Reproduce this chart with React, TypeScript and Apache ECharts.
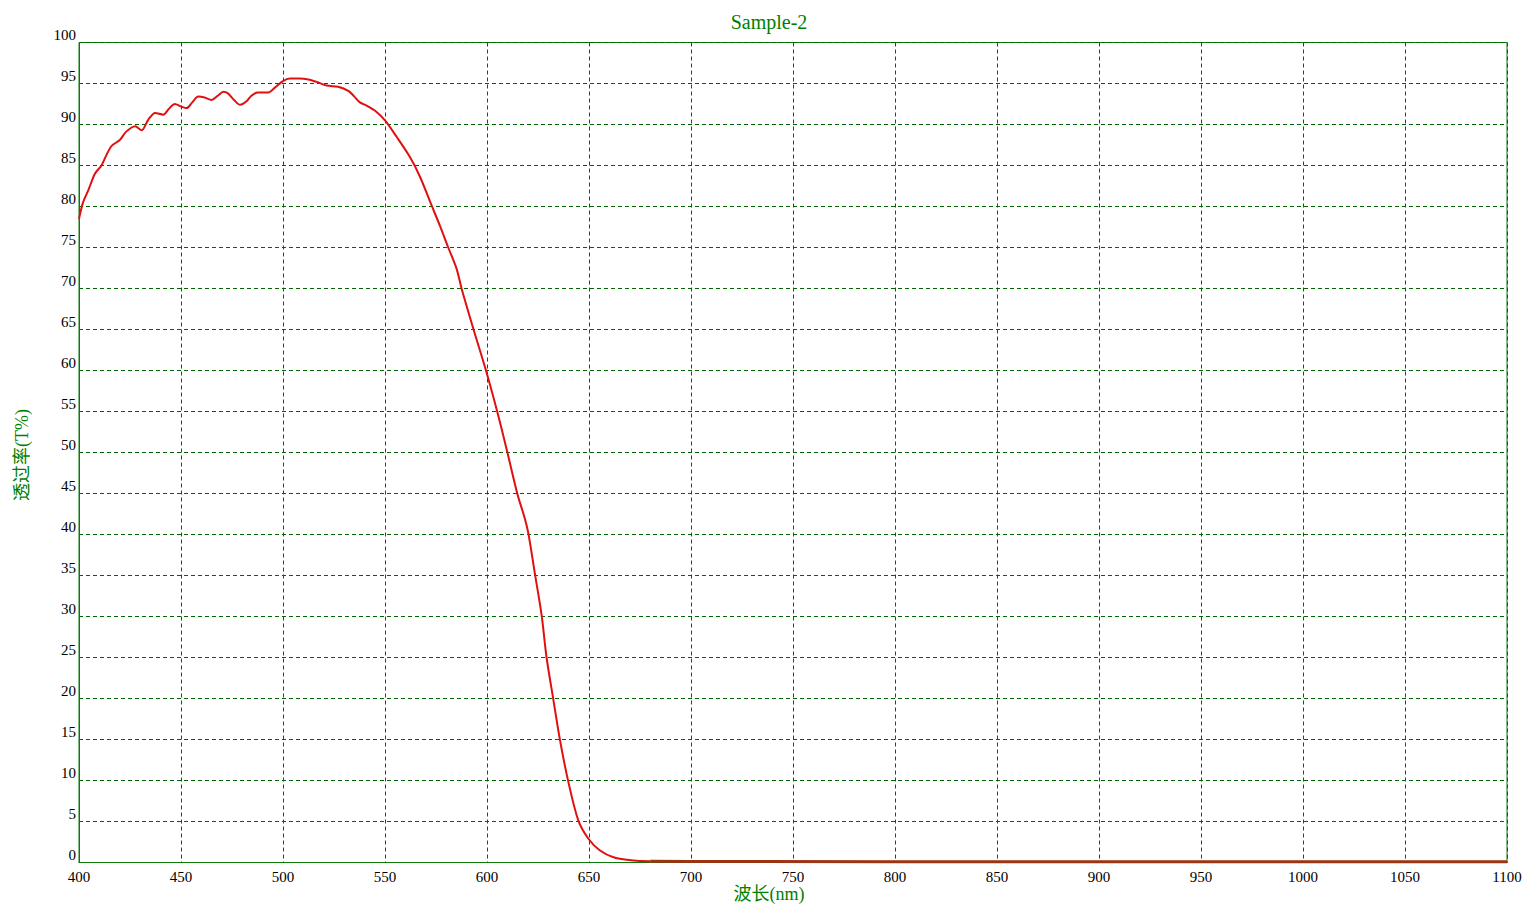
import React, { useEffect, useRef } from "react";
import * as echarts from "echarts";

const wavelengths = [
  400, 402, 404.6, 407.8, 411, 413.5, 416, 420, 423, 427.5, 430.7, 434, 437.3, 441.3, 444, 447, 450,
  452.8, 455.5, 458.5, 461.5, 465, 468, 470.8, 473, 476, 479, 482, 484.5, 487.5, 492.8, 496, 500,
  503.4, 508, 512.4, 516.5, 521.4, 527, 532, 535, 537.7, 541, 545, 550, 555.7, 562.3, 567.2, 572.9,
  577, 581, 585.1, 587.6, 593.3, 599.5, 605.1, 610, 614.9, 618.6, 620.3, 623.5, 626.8, 629.2, 632.5,
  635.8, 639.9, 644.8, 649.7, 655.4, 662, 671.7, 680, 700, 800, 900, 1000, 1100,
];
const transmittance = [
  78.5, 80.5, 82.0, 84.0, 85.0, 86.3, 87.4, 88.1, 89.1, 89.8, 89.3, 90.6, 91.4, 91.2, 91.9, 92.5, 92.2,
  92.0, 92.7, 93.4, 93.3, 93.0, 93.5, 94.0, 93.8, 93.0, 92.4, 92.8, 93.5, 93.9, 93.9, 94.5, 95.3,
  95.6, 95.6, 95.5, 95.2, 94.75, 94.6, 94.1, 93.4, 92.7, 92.3, 91.7, 90.5, 88.5, 86.0, 83.6, 80.1,
  77.6, 75.0, 72.4, 69.95, 65.1, 60.0, 54.9, 50.0, 44.95, 41.9, 40.1, 35.2, 30.1, 25.0, 19.9,
  14.9, 9.8, 5.1, 2.9, 1.46, 0.65, 0.24, 0.15, 0.12, 0.1, 0.1, 0.1, 0.1,
];

const titleText = "Sample-2";
const xAxisName = "波长(nm)";
const yAxisName = "透过率(T%)";
const tailStart = 680;

const GREEN = "#0a7a0a";
const GRID_GREEN = "#006400";
const SERIF = '"Liberation Serif", "Times New Roman", "Noto Sans CJK SC", serif';

export default function App() {
  const ref = useRef<HTMLDivElement>(null);
  useEffect(() => {
    if (!ref.current) return;
    const chart = echarts.init(ref.current, undefined, { renderer: "svg" });
    const data = wavelengths.map((w, i) => [w, transmittance[i]]);
    const head = data.filter((d) => d[0] <= tailStart);
    const tail = data.filter((d) => d[0] >= tailStart);
    chart.setOption({
      animation: false,
      backgroundColor: "#ffffff",
      grid: {
        left: 79,
        right: 31,
        top: 42.5,
        bottom: 52.5,
        show: true,
        borderColor: GREEN,
        borderWidth: 1,
        containLabel: false,
      },
      graphic: [
        {
          type: "text",
          x: 769,
          y: 22,
          style: {
            text: titleText,
            fill: "#008000",
            font: `20px ${SERIF}`,
            textAlign: "center",
            textVerticalAlign: "middle",
          },
        },
        {
          type: "text",
          x: 769,
          y: 894,
          style: {
            text: xAxisName,
            fill: "#008000",
            font: `18px ${SERIF}`,
            textAlign: "center",
            textVerticalAlign: "middle",
          },
        },
        {
          type: "text",
          x: 22,
          y: 455,
          rotation: Math.PI / 2,
          style: {
            text: yAxisName,
            fill: "#008000",
            font: `18px ${SERIF}`,
            textAlign: "center",
            textVerticalAlign: "middle",
          },
        },
      ],
      xAxis: {
        type: "value",
        min: 400,
        max: 1100,
        interval: 50,
        axisLine: { show: true, lineStyle: { color: GREEN, width: 1 } },
        axisTick: { show: false },
        axisLabel: {
          color: "#000000",
          fontFamily: SERIF,
          fontSize: 15,
          margin: 7,
          formatter: (v: number) => String(v),
        },
        splitLine: {
          show: true,
          lineStyle: { color: GRID_GREEN, type: [4, 3], width: 1 },
        },
      },
      yAxis: {
        type: "value",
        min: 0,
        max: 100,
        interval: 5,
        axisLine: { show: true, lineStyle: { color: GREEN, width: 1 } },
        axisTick: { show: false },
        axisLabel: {
          color: "#000000",
          fontFamily: SERIF,
          fontSize: 15,
          margin: 3,
          verticalAlign: "bottom",
          lineHeight: 15,
          formatter: (v: number) => String(v),
        },
        splitLine: {
          show: true,
          lineStyle: { color: GRID_GREEN, type: [4, 3], width: 1 },
        },
      },
      series: [
        {
          type: "line",
          data: head,
          showSymbol: false,
          smooth: 0.3,
          lineStyle: { width: 2, color: "#e01010" },
          itemStyle: { color: "#e01010" },
          z: 5,
        },
        {
          type: "line",
          data: tail,
          showSymbol: false,
          lineStyle: { width: 3, color: "#9a3412" },
          itemStyle: { color: "#9a3412" },
          z: 5,
        },
      ],
    });
    return () => chart.dispose();
  }, []);
  return (
    <div
      ref={ref}
      style={{ position: "absolute", left: 0, top: 0, width: 1538, height: 915 }}
    />
  );
}
